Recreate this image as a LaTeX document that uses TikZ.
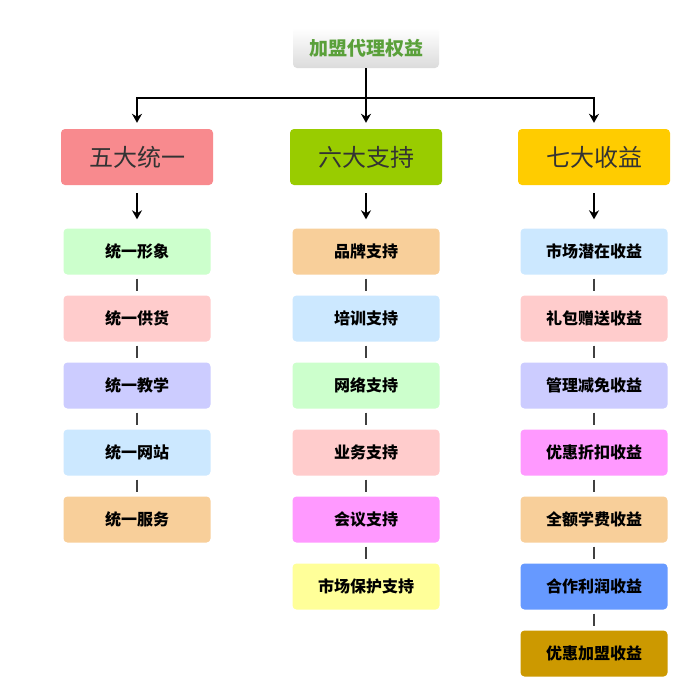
\documentclass[tikz,border=0pt]{standalone}
\usepackage{fontspec}
\setmainfont{Noto Sans CJK SC}
\usetikzlibrary{arrows.meta}

\definecolor{topgreen}{HTML}{5AA03A}
\definecolor{hdred}{HTML}{F88A8E}
\definecolor{hdgreen}{HTML}{99CC00}
\definecolor{hdyellow}{HTML}{FFCC00}
\definecolor{cgreen}{HTML}{CCFFCC}
\definecolor{cpink}{HTML}{FFCCCC}
\definecolor{cviolet}{HTML}{CCCCFF}
\definecolor{cblue}{HTML}{CCE8FF}
\definecolor{ctan}{HTML}{F8CF9A}
\definecolor{cmagenta}{HTML}{FF99FF}
\definecolor{cyellow}{HTML}{FFFF99}
\definecolor{cdeep}{HTML}{6699FF}
\definecolor{cgold}{HTML}{CC9900}

\tikzset{
  headbox/.style={rounded corners=4pt, minimum width=152pt, minimum height=56pt,
    text=black!80, font=\fontsize{24}{28}\selectfont},
  subbox/.style={rounded corners=4pt, minimum width=147pt, minimum height=46pt,
    text=black, font=\fontsize{16}{19}\selectfont\bfseries},
  thinlink/.style={line width=1.2pt, draw=black!75},
  mainarrow/.style={line width=1.6pt, -{Stealth[length=9pt,width=10pt]}},
}

\begin{document}
\begin{tikzpicture}[x=1pt, y=-1pt]

  % Canvas
  \useasboundingbox[fill=white] (0,0) rectangle (700,689);

  % Parameters
  \def\colL{137}   % left column
  \def\colM{366}   % middle column
  \def\colR{594}   % right column
  \def\railY{98}   % horizontal rail

  % Top box
  \node[rounded corners=4pt, minimum width=146pt, minimum height=40pt,
        top color=white, bottom color=black!14, text=topgreen,
        font=\fontsize{19}{22}\selectfont\bfseries]
    (top) at (\colM,48) {加盟代理权益};

  % Headers
  \node[headbox, fill=hdred]    (five)  at (\colL,157) {五大统一};
  \node[headbox, fill=hdgreen]  (six)   at (\colM,157) {六大支持};
  \node[headbox, fill=hdyellow] (seven) at (\colR,157) {七大收益};

  % Rail and arrows to the headers
  \coordinate (rail) at (\colM,\railY);
  \draw[mainarrow] (top.south) -- ([yshift=6pt]six.north);
  \draw[mainarrow] (rail) -| ([yshift=6pt]five.north);
  \draw[mainarrow] (rail) -| ([yshift=6pt]seven.north);

  % Left column
  \foreach \i/\txt/\col in {1/统一形象/cgreen, 2/统一供货/cpink, 3/统一教学/cviolet,
                            4/统一网站/cblue, 5/统一服务/ctan}
    \node[subbox, fill=\col] (L\i) at (\colL,{251.5+67*(\i-1)}) {\txt};

  % Middle column
  \foreach \i/\txt/\col in {1/品牌支持/ctan, 2/培训支持/cblue, 3/网络支持/cgreen,
                            4/业务支持/cpink, 5/会议支持/cmagenta, 6/市场保护支持/cyellow}
    \node[subbox, fill=\col] (M\i) at (\colM,{251.5+67*(\i-1)}) {\txt};

  % Right column
  \foreach \i/\txt/\col in {1/市场潜在收益/cblue, 2/礼包赠送收益/cpink, 3/管理减免收益/cviolet,
                            4/优惠折扣收益/cmagenta, 5/全额学费收益/ctan, 6/合作利润收益/cdeep,
                            7/优惠加盟收益/cgold}
    \node[subbox, fill=\col] (R\i) at (\colR,{251.5+67*(\i-1)}) {\txt};

  % Header arrows
  \draw[mainarrow] ([yshift=-8pt]five.south)  -- ([yshift=9pt]L1.north);
  \draw[mainarrow] ([yshift=-8pt]six.south)   -- ([yshift=9pt]M1.north);
  \draw[mainarrow] ([yshift=-8pt]seven.south) -- ([yshift=9pt]R1.north);

  % Links between boxes
  \foreach \a/\b in {L1/L2, L2/L3, L3/L4, L4/L5,
                     M1/M2, M2/M3, M3/M4, M4/M5, M5/M6,
                     R1/R2, R2/R3, R3/R4, R4/R5, R5/R6, R6/R7}
    \draw[thinlink] ([yshift=-4pt]\a.south) -- ([yshift=4pt]\b.north);

\end{tikzpicture}
\end{document}
